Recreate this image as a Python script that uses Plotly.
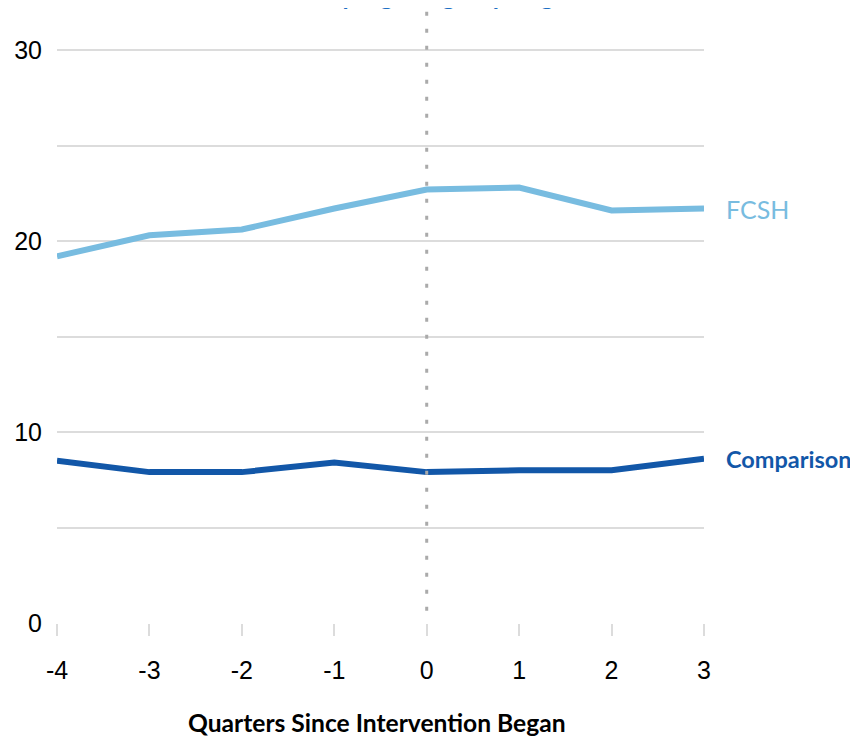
import plotly.graph_objects as go

# quarters relative to start of intervention
quarters = [-4, -3, -2, -1, 0, 1, 2, 3]
quarter_labels = ["-4", "-3", "-2", "-1", "0", "1", "2", "3"]
fcsh = [19.2, 20.3, 20.6, 21.7, 22.7, 22.8, 21.6, 21.7]
comparison = [8.5, 7.9, 7.9, 8.4, 7.9, 8.0, 8.0, 8.6]

ytick_vals = [0, 5, 10, 15, 20, 25, 30]
ytick_text = ["0", "", "10", "", "20", "", "30"]

light_blue = "#78BCE0"
dark_blue = "#1257A8"
grid = "#DCDCDC"

fig = go.Figure()
fig.add_trace(go.Scatter(x=quarters, y=fcsh, mode="lines", name="FCSH",
                         line=dict(color=light_blue, width=6), cliponaxis=False))
fig.add_trace(go.Scatter(x=quarters, y=comparison, mode="lines", name="Comparison",
                         line=dict(color=dark_blue, width=6), cliponaxis=False))

# intervention start marker
fig.add_shape(type="line", xref="x", yref="paper", x0=0, x1=0, y0=0.02, y1=1.02,
              line=dict(color="#AAAAAA", width=3, dash="4px,13px"))

# label above the marker, mostly cut off by the top edge
fig.add_annotation(x=0, xref="x", y=1, yref="paper", yanchor="bottom", yshift=-4,
                   text="<b>FCSH program group began</b>", showarrow=False,
                   font=dict(family="Lato", size=25, color="#1C6FC4"))

fig.add_annotation(x=3, y=fcsh[-1], xref="x", yref="y", xanchor="left", xshift=20,
                   text="FCSH", showarrow=False,
                   font=dict(family="Lato", size=25, color=light_blue))
fig.add_annotation(x=3, y=comparison[-1], xref="x", yref="y", xanchor="left", xshift=20,
                   text="<b>Comparison</b>", showarrow=False,
                   font=dict(family="Lato", size=23.5, color=dark_blue))

# x axis title
fig.add_annotation(x=0.5, xref="paper", y=0, yref="paper", yanchor="middle",
                   xshift=-4, yshift=-99, showarrow=False,
                   text="<b>Quarters Since Intervention Began</b>",
                   font=dict(family="Lato", size=24.6, color="black"))

fig.update_layout(
    width=850, height=728,
    margin=dict(l=49, r=154, t=0, b=113),
    plot_bgcolor="white", paper_bgcolor="white",
    showlegend=False,
    font=dict(family="Liberation Sans", size=24, color="black"),
    xaxis=dict(range=[-4, 3], tickvals=quarters, ticktext=quarter_labels,
               showgrid=False, zeroline=False, automargin=False,
               showline=False, ticks="outside", ticklen=12, tickwidth=2, tickcolor=grid,
               ticklabelstandoff=13, tickfont=dict(size=25)),
    yaxis=dict(range=[0, 32.2], tickvals=ytick_vals, ticktext=ytick_text,
               showgrid=True, gridcolor=grid, gridwidth=2, zeroline=False,
               automargin=False, showline=False, ticks="", ticklabelstandoff=14,
               tickfont=dict(size=25)),
)

fig.write_html("out.html")
